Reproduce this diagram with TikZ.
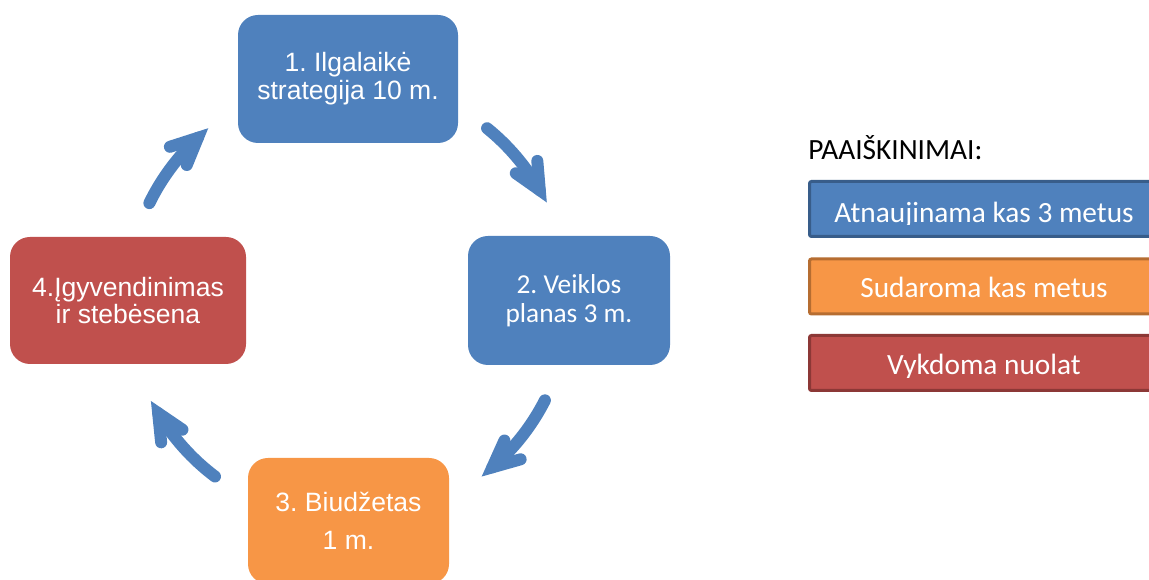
\documentclass[tikz,border=0pt]{standalone}
\usepackage{fontspec}
\setmainfont{Liberation Sans}
\newfontfamily\calfont{Carlito}
\usetikzlibrary{calc}
\frenchspacing
\definecolor{cblue}{HTML}{4F81BD}
\definecolor{corange}{HTML}{F79646}
\definecolor{cred}{HTML}{C0504D}
\definecolor{cblueB}{HTML}{385D8A}
\definecolor{corangeB}{HTML}{B66D31}
\definecolor{credB}{HTML}{8C3836}
\newcommand\cycR{165.75pt}
\newcommand\cycL{22pt}
\tikzset{
  stage/.style={rounded corners=15pt, text=white, align=center, inner sep=0pt},
  arial/.style={font=\fontsize{19.9}{20.5}\selectfont},
  legbox/.style={line width=2.25pt, rounded corners=1.5pt, inner sep=0pt},
  legtext/.style={text=white, anchor=base, inner sep=0pt, font=\calfont\fontsize{22}{24}\selectfont},
  cyc/.style={draw=cblue, line width=9pt, line cap=round},
}
\newcommand\cycarrow[3]{%
  \draw[cyc] ($(c)+(#2:\cycR)$) coordinate (#1s) arc[start angle=#2, end angle=#3, radius=\cycR] coordinate (#1t);
  \draw[cyc, line join=miter] ($(#1t)+(#3+115:\cycL)$) coordinate (#1a) -- (#1t) -- ($(#1t)+(#3+65:\cycL)$) coordinate (#1b);
}
\begin{document}
\begin{tikzpicture}[x=0.75pt,y=0.75pt]
\useasboundingbox (0,0) rectangle (1149,580);
\clip (0,0) rectangle (1149,580);
% stages
\node[stage, arial, fill=cblue, minimum width=165pt, minimum height=96pt] (s1) at (348,501)
  {1. Ilgalaikė\\[0.3pt]strategija 10 m.};
\node[stage, fill=cblue, minimum width=151.5pt, minimum height=96.75pt,
  font=\calfont\fontsize{20.5}{21.75}\selectfont] (s2) at (569,279.5)
  {2. Veiklos\\planas 3 m.};
\node[stage, arial, fill=corange, minimum width=150.75pt, minimum height=94.5pt] (s3) at (348.5,59)
  {3. Biudžetas\\[8pt]1 m.};
\node[stage, arial, fill=cred, minimum width=177pt, minimum height=95.25pt] (s4) at (128,279.5)
  {4.Įgyvendinimas\\[-0.5pt]ir stebėsena};
% cycle arrows
\coordinate (c) at (348,280);
\cycarrow{a1}{51}{29.8}
\cycarrow{a2}{-27}{-49.2}
\cycarrow{a3}{233}{210.8}
\cycarrow{a4}{154}{132.8}
% legend
\node[anchor=base west, inner sep=0pt, font=\calfont\fontsize{22}{24}\selectfont] (legtitle) at (808,420.7) {PAAIŠKINIMAI:};
\node[legbox, draw=cblueB, fill=cblue, minimum width=264pt, minimum height=41.25pt] (lA) at (985.5,371) {};
\node[legbox, draw=corangeB, fill=corange, minimum width=264pt, minimum height=41.25pt] (lB) at (985.5,293.5) {};
\node[legbox, draw=credB, fill=cred, minimum width=264pt, minimum height=41.25pt] (lC) at (985.5,217) {};
\begin{scope}
  \clip (800,355.5) rectangle (1149,400);
  \node[legtext] (tA) at (984,357.3) {Atnaujinama kas 3 metus};
\end{scope}
\node[legtext] (tB) at (984,282) {Sudaroma kas metus};
\begin{scope}
  \clip (800,202.7) rectangle (1149,246);
  \node[legtext] (tC) at (984,205) {Vykdoma nuolat};
\end{scope}
\end{tikzpicture}
\end{document}
